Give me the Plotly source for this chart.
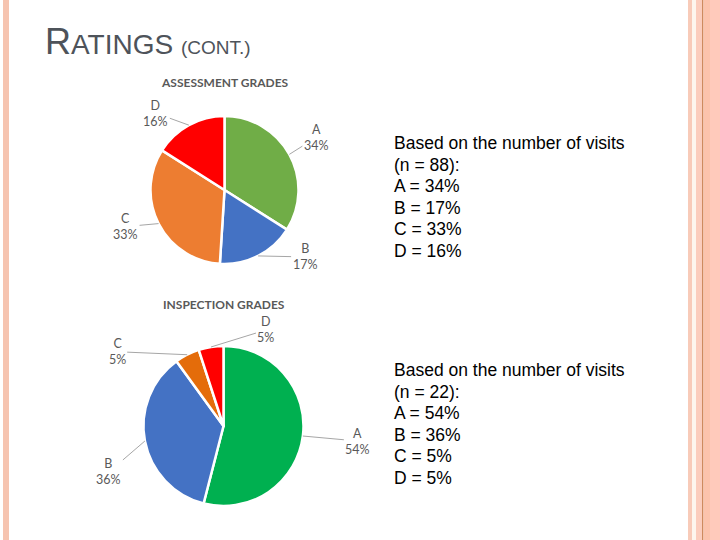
import math
import plotly.graph_objects as go

# ---------------- data ----------------
grades = ["A", "B", "C", "D"]
assessment_pct = [34, 17, 33, 16]
inspection_pct = [54, 36, 5, 5]
assessment_n = 88
inspection_n = 22
assessment_title = "ASSESSMENT GRADES"
inspection_title = "INSPECTION GRADES"

# ---------------- style ----------------
W, H = 720, 540
assess_colors = ["#70ad47", "#4472c4", "#ed7d31", "#ff0000"]
inspect_colors = ["#00b050", "#4472c4", "#e46c0a", "#ff0000"]
label_color = "#595959"

# pie geometry in pixels (centre x, centre y, radius)
pie1 = (224.5, 190.0, 74.0)
pie2 = (223.5, 426.0, 80.0)
# label offsets (pixels) from the slice edge mid-point
off1 = [(27, -17), (47, 1), (-33, 3), (-33, -12)]
off2 = [(55, 5), (-36, 31), (-70, -3), (55, -17)]


def px(x):
    return x / W


def py(y):
    return 1 - y / H


def domain(geom):
    cx, cy, r = geom
    return dict(x=[px(cx - r), px(cx + r)], y=[py(cy + r), py(cy - r)])


fig = go.Figure()
for vals, cols, geom in [(assessment_pct, assess_colors, pie1),
                         (inspection_pct, inspect_colors, pie2)]:
    fig.add_trace(go.Pie(
        labels=grades, values=vals, sort=False, direction="clockwise",
        rotation=0, textinfo="none", hoverinfo="label+percent",
        marker=dict(colors=cols, line=dict(color="white", width=2.5)),
        domain=domain(geom), showlegend=False,
    ))

annotations = []


def slice_labels(vals, geom, offs):
    cx, cy, r = geom
    tot = sum(vals)
    cum = 0
    for g, v, (dx, dy) in zip(grades, vals, offs):
        mid = (cum + v / 2) / tot * 2 * math.pi
        cum += v
        ex = cx + r * math.sin(mid)
        ey = cy - r * math.cos(mid)
        annotations.append(dict(
            x=px(ex), y=py(ey), xref="paper", yref="paper",
            text=f"{g}<br>{v}%", showarrow=True, arrowhead=0,
            arrowwidth=1, arrowcolor="#a6a6a6", standoff=0,
            ax=dx, ay=dy, axref="pixel", ayref="pixel",
            font=dict(family="Lato, Open Sans, sans-serif", size=12.5,
                      color=label_color),
            align="center",
        ))


slice_labels(assessment_pct, pie1, off1)
slice_labels(inspection_pct, pie2, off2)

# chart titles
for t, (cx, cy, r), ty in [(assessment_title, pie1, 82), (inspection_title, pie2, 304)]:
    annotations.append(dict(
        x=px(cx), y=py(ty), xref="paper", yref="paper", text=f"<b>{t}</b>",
        showarrow=False, xanchor="center", yanchor="middle",
        font=dict(family="Lato, Open Sans, sans-serif", size=12, color=label_color),
    ))

# right-hand text blocks
def text_block(vals, n, top):
    lines = ["Based on the number of visits", f"(n = {n}):"] + \
        [f"{g} = {v}%" for g, v in zip(grades, vals)]
    for i, ln in enumerate(lines):
        annotations.append(dict(
            x=px(392), y=py(top + i * 21.6), xref="paper", yref="paper",
            text=ln, showarrow=False, xanchor="left", yanchor="middle",
            font=dict(family="Liberation Sans, Arial, sans-serif", size=17.5,
                      color="black"),
        ))


text_block(assessment_pct, assessment_n, 143)
text_block(inspection_pct, inspection_n, 370)

# slide title
annotations.append(dict(
    x=px(43), y=py(42), xref="paper", yref="paper", showarrow=False,
    xanchor="left", yanchor="middle",
    text="<span style='font-size:36px'>R</span>ATINGS "
         "<span style='font-size:19px'>(CONT.)</span>",
    font=dict(family="Liberation Sans, Arial, sans-serif", size=28,
              color="#4e535a"),
))

# decorative stripes
stripes = [
    (3, 9, "#f6c4b0"),
    (688, 692, "#f8cbb9"),
    (692, 696, "#fdf6ee"),
    (696, 702, "#fbcdbd"),
    (702, 703.5, "#cf8a5e"),
    (703.5, 710, "#fcc3ac"),
    (710, 720, "#ffcabb"),
]
shapes = [dict(type="rect", xref="paper", yref="paper", x0=px(a), x1=px(b),
               y0=0, y1=1, fillcolor=c, line=dict(width=0), layer="below")
          for a, b, c in stripes]

fig.update_layout(
    width=W, height=H, margin=dict(l=0, r=0, t=0, b=0),
    paper_bgcolor="white", plot_bgcolor="white",
    annotations=annotations, shapes=shapes,
)

fig.write_html("out.html")
